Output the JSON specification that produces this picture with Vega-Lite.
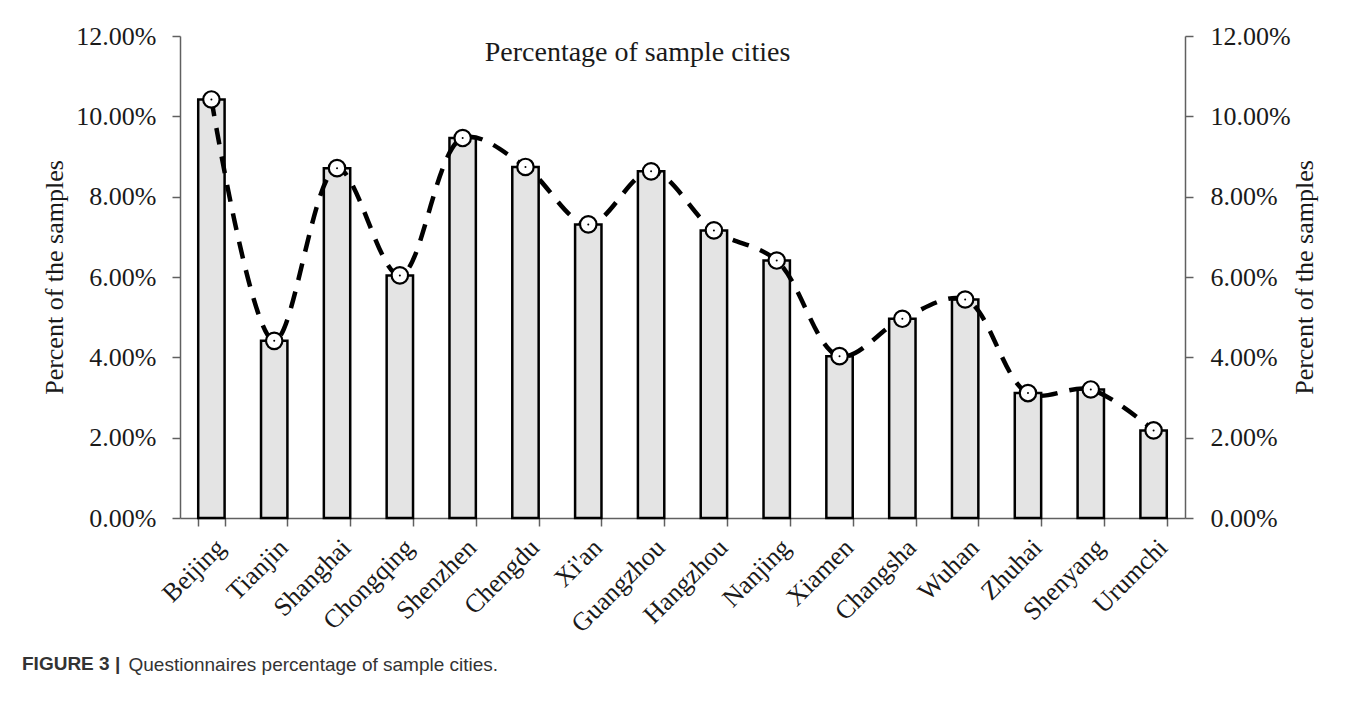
{
  "$schema": "https://vega.github.io/schema/vega-lite/v6.json",
  "width": 1005,
  "height": 482,
  "autosize": {"type": "none"},
  "padding": {"left": 180, "top": 36, "right": 178, "bottom": 188},
  "background": "white",
  "config": {
    "view": {"stroke": null},
    "font": "Liberation Serif",
    "axis": {
      "grid": false,
      "domainColor": "#606060",
      "tickColor": "#606060",
      "domainWidth": 1.5,
      "tickWidth": 1.5,
      "tickSize": 8,
      "labelColor": "#1a1a1a",
      "titleColor": "#1a1a1a",
      "labelFont": "Liberation Serif",
      "titleFont": "Liberation Serif",
      "labelFontSize": 26,
      "titleFontSize": 26,
      "titleFontWeight": "normal"
    }
  },
  "title": {
    "text": "FIGURE 3 |",
    "orient": "bottom",
    "anchor": "start",
    "frame": "group",
    "font": "Liberation Sans",
    "fontSize": 19,
    "fontWeight": "bold",
    "color": "#333333",
    "dx": -158,
    "offset": -19
  },
  "data": {
    "values": [
      {"city": "Beijing", "pct": 0.1042},
      {"city": "Tianjin", "pct": 0.0441},
      {"city": "Shanghai", "pct": 0.0871},
      {"city": "Chongqing", "pct": 0.0604},
      {"city": "Shenzhen", "pct": 0.0946},
      {"city": "Chengdu", "pct": 0.0874},
      {"city": "Xi'an", "pct": 0.0731},
      {"city": "Guangzhou", "pct": 0.0863},
      {"city": "Hangzhou", "pct": 0.0716},
      {"city": "Nanjing", "pct": 0.0641},
      {"city": "Xiamen", "pct": 0.0403},
      {"city": "Changsha", "pct": 0.0496},
      {"city": "Wuhan", "pct": 0.0544},
      {"city": "Zhuhai", "pct": 0.0311},
      {"city": "Shenyang", "pct": 0.0320},
      {"city": "Urumchi", "pct": 0.0218}
    ]
  },
  "layer": [
    {
      "mark": {"type": "bar", "fill": "#e4e4e4", "stroke": "#000000", "strokeWidth": 2.5},
      "encoding": {
        "x": {
          "field": "city",
          "type": "nominal",
          "sort": null,
          "scale": {"paddingInner": 0.58, "paddingOuter": 0.29},
          "axis": {
            "orient": "bottom",
            "labelAngle": -45,
            "tickBand": "extent",
            "labelPadding": 8,
            "title": "Questionnaires percentage of sample cities.",
            "titleFont": "Liberation Sans",
            "titleFontSize": 19,
            "titleColor": "#333333",
            "titleX": -52,
            "titleY": 152,
            "titleAlign": "left",
            "titleBaseline": "alphabetic"
          }
        },
        "y": {
          "field": "pct",
          "type": "quantitative",
          "scale": {"domain": [0, 0.12]},
          "axis": {
            "orient": "left",
            "format": ".2%",
            "values": [0, 0.02, 0.04, 0.06, 0.08, 0.1, 0.12],
            "labelPadding": 16,
            "title": "Percent of the samples",
            "titlePadding": 8
          }
        }
      }
    },
    {
      "encoding": {
        "x": {
          "field": "city",
          "type": "nominal",
          "sort": null,
          "axis": {
            "orient": "top",
            "domain": false,
            "ticks": false,
            "labels": false,
            "title": "Percentage of sample cities",
            "titleFontSize": 28,
            "titleX": 457,
            "titleY": 24,
            "titleAlign": "center",
            "titleBaseline": "alphabetic"
          }
        },
        "y": {
          "field": "pct",
          "type": "quantitative",
          "scale": {"domain": [0, 0.12]},
          "axis": {
            "orient": "right",
            "format": ".2%",
            "values": [0, 0.02, 0.04, 0.06, 0.08, 0.1, 0.12],
            "labelPadding": 17,
            "title": "Percent of the samples",
            "titleAngle": 270,
            "titlePadding": 27
          }
        }
      },
      "layer": [
        {"mark": {"type": "line", "interpolate": "catmull-rom", "stroke": "#000000", "strokeWidth": 4.5, "strokeDash": [17, 12]}},
        {"mark": {"type": "point", "shape": "circle", "filled": true, "fill": "#ffffff", "stroke": "#000000", "strokeWidth": 2.2, "size": 270, "opacity": 1}},
        {"mark": {"type": "point", "shape": "circle", "filled": true, "fill": "#000000", "size": 4, "opacity": 1}}
      ]
    }
  ],
  "resolve": {"scale": {"y": "independent"}, "axis": {"x": "independent", "y": "independent"}}
}
